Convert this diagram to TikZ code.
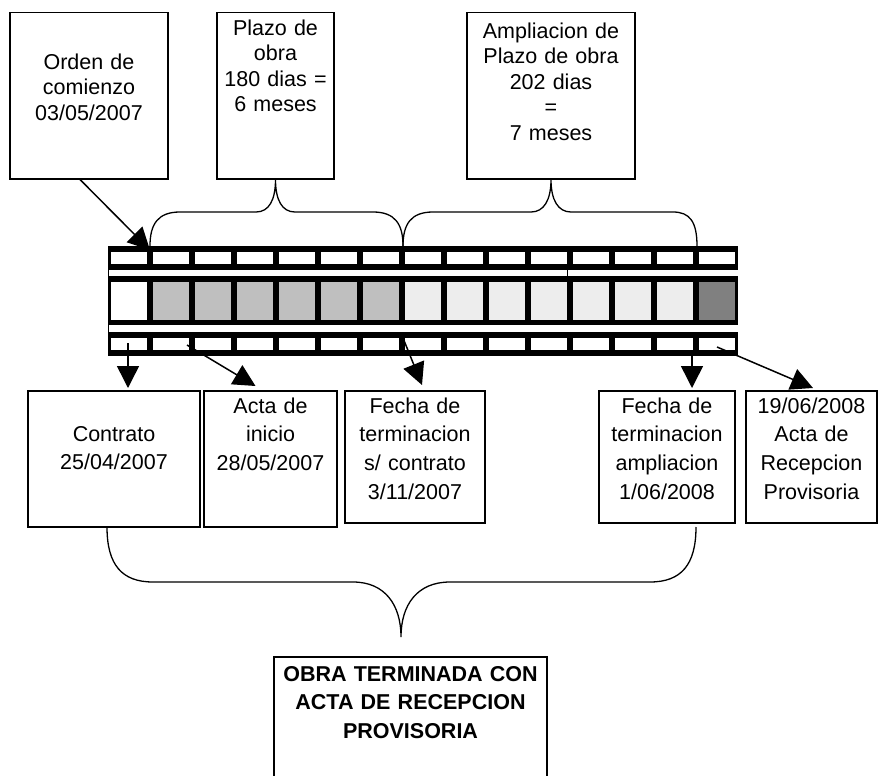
\documentclass[tikz,border=0pt]{standalone}
\usepackage{fontspec}
\setmainfont{Liberation Sans}
\usetikzlibrary{arrows.meta}
\colorlet{gris}{black!25}
\colorlet{punteado}{black!7}
\colorlet{oscuro}{black!50}
\tikzstyle{caja}=[rectangle,draw,line width=1.5pt,inner sep=0pt,align=center,anchor=north]
\tikzstyle{arriba}=[caja,font=\fontsize{21.5}{25.5}\selectfont]
\tikzstyle{abajo}=[caja,font=\fontsize{21.5}{28.7}\selectfont]
\tikzstyle{flecha}=[-{Triangle[length=22pt,width=22pt]},line width=1.5pt]
\tikzstyle{llave}=[line width=1.3pt]

\begin{document}
\begin{tikzpicture}[x=1pt,y=-1pt]
\useasboundingbox (0,0) rectangle (878,776);
% cajas de arriba
\node[arriba,text width=158pt,text height=56.5pt,text depth=109.5pt] (orden) at (89,12) {Orden de\\comienzo\\03/05/2007};
\node[arriba,text width=117pt,text height=22.5pt,text depth=143.5pt] (plazo) at (275.5,12) {Plazo de\\obra\\180 dias =\\6 meses};
\node[arriba,text width=168pt,text height=25.5pt,text depth=140.5pt] (ampliacion) at (551,12) {Ampliacion de\\Plazo de obra\\202 dias\\=\\7 meses};
% pelicula
\draw[line width=0.8pt] (108,246) -- (108,356);
\draw[line width=0.8pt] (567,246) -- (567,282);
\fill (108,246) rectangle (738,270);
\fill (108,276) rectangle (738,325);
\fill (108,332) rectangle (738,356);
\foreach \i/\col in {0/white,1/gris,2/gris,3/gris,4/gris,5/gris,6/gris,7/punteado,8/punteado,9/punteado,10/punteado,11/punteado,12/punteado,13/punteado,14/oscuro} {
  \pgfmathsetmacro\xa{108+42*\i+3}
  \pgfmathsetmacro\xb{108+42*(\i+1)-3}
  \fill[white] (\xa,252) rectangle (\xb,264);
  \fill[\col] (\xa,282) rectangle (\xb,320);
  \fill[white] (\xa,338) rectangle (\xb,350);
}
% cajas de abajo
\node[abajo,text width=172pt,text height=50.5pt,text depth=85.5pt] (contrato) at (114,390) {Contrato\\25/04/2007};
\node[abajo,text width=133pt,text height=22.5pt,text depth=113.5pt] (acta) at (270.5,390) {Acta de\\inicio\\28/05/2007};
\node[abajo,text width=140pt,text height=22.5pt,text depth=109.5pt] (fecha) at (415,390) {Fecha de\\terminacion\\s/ contrato\\3/11/2007};
\node[abajo,text width=136pt,text height=22.5pt,text depth=109.5pt] (fechaamp) at (667,390) {Fecha de\\terminacion\\ampliacion\\1/06/2008};
\node[abajo,text width=131pt,text height=22.5pt,text depth=109.5pt] (recepcion) at (811.5,390) {19/06/2008\\Acta de\\Recepcion\\Provisoria};
\node[abajo,font=\fontsize{21.5}{28.5}\selectfont\bfseries,text width=273pt,text height=24.5pt,text depth=100.5pt] (obra) at (410.5,656) {OBRA TERMINADA CON\\ACTA DE RECEPCION\\PROVISORIA};
% puntos sobre la pelicula
\coordinate (pOrden) at (150,250);
\coordinate (pContrato) at (128,343);
\coordinate (pActa) at (187,345);
\coordinate (pFecha) at (403,338);
\coordinate (pFechaAmp) at (692,356);
\coordinate (pRecepcion) at (717,347);
\coordinate (b1) at (150,246);
\coordinate (b2) at (403,246);
\coordinate (b3) at (697,246);
\coordinate (b4) at (107,527);
\coordinate (b5) at (696,527);
\coordinate (b6) at (401,637);
% flechas
\draw[flecha] ([xshift=-9pt]orden.south) -- (pOrden);
\draw[flecha] (pContrato) -- ([xshift=14pt,yshift=2pt]contrato.north);
\draw[flecha] (pActa) -- ([xshift=-15pt,yshift=4pt]acta.north);
\draw[flecha] (pFecha) -- ([xshift=7pt,yshift=5pt]fecha.north);
\draw[flecha] (pFechaAmp) -- ([xshift=25pt,yshift=2pt]fechaamp.north);
\draw[flecha] (pRecepcion) -- ([xshift=1.5pt,yshift=2pt]recepcion.north);
% llaves
\draw[llave] (b1) .. controls (150,224) and (158,212) .. (180,212) -- (256,212)
  .. controls (269,212) and (275.5,200) .. (plazo.south)
  .. controls (275.5,200) and (282,212) .. (295,212) -- (373,212)
  .. controls (395,212) and (403,224) .. (b2);
\draw[llave] (b2) .. controls (403,224) and (411,212) .. (433,212) -- (531,212)
  .. controls (544,212) and (551,200) .. (ampliacion.south)
  .. controls (551,200) and (558,212) .. (571,212) -- (673,212)
  .. controls (690,212) and (697,222) .. (b3);
\draw[llave] (b4) .. controls (107,565) and (122,582) .. (153,582) -- (353,582)
  .. controls (385,582) and (401,605) .. (b6)
  .. controls (401,605) and (417,582) .. (450,582) -- (650,582)
  .. controls (681,582) and (696,565) .. (b5);
\end{tikzpicture}
\end{document}
